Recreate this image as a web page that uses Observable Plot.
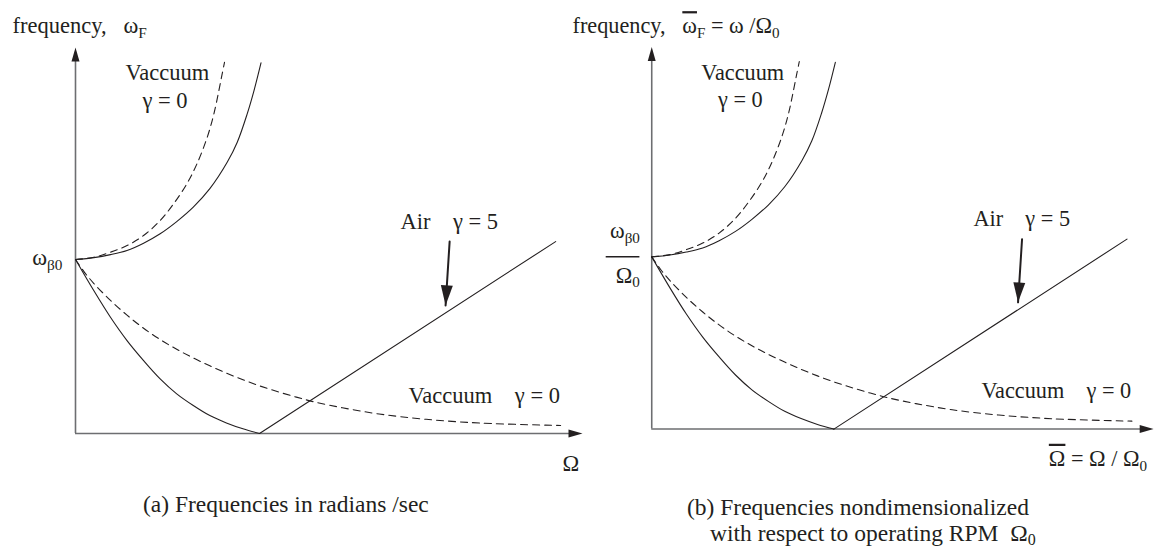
<!DOCTYPE html>
<html>
<head>
<meta charset="utf-8">
<script src="https://cdn.jsdelivr.net/npm/d3@7"></script>
<script src="https://cdn.jsdelivr.net/npm/@observablehq/plot@0.6"></script>
<style>
  html, body { margin: 0; padding: 0; background: #fff; }
  #fig { position: relative; width: 1161px; height: 547px; overflow: hidden;
         font-family: "Liberation Serif", "Times New Roman", serif; color: #231f20; }
  .panel { position: absolute; top: 0; }
  .caption { position: absolute; font-size: 23.5px; line-height: 26px; white-space: pre; }
  .caption sub { font-size: 0.68em; vertical-align: -0.28em; line-height: 0; }
  .caption .indent { display: inline-block; padding-left: 23px; }
</style>
</head>
<body>
<div id="fig">
  <div class="panel" id="panelA" style="left:0px"></div>
  <div class="panel" id="panelB" style="left:577px"></div>
  <div class="caption" style="left:143px;top:491px">(a) Frequencies in radians /sec</div>
  <div class="caption" style="left:687px;top:494px">(b) Frequencies nondimensionalized<br><span class="indent">with respect to operating RPM  Ω<sub>0</sub></span></div>
</div>
<script>
// Units: rotor speed Ω measured so that the lower branch touches zero at Ω = 1,
// frequency measured in units of the non-rotating frequency ω_β0 (= 1).

// Upper branch, vacuum (γ = 0), dashed
const vacUpperOmega = [0, 0.10, 0.19, 0.28, 0.37, 0.46, 0.533, 0.605, 0.66, 0.716, 0.752, 0.779, 0.797, 0.81];
const vacUpperFreq  = [1.0, 1.013, 1.042, 1.080, 1.138, 1.224, 1.320, 1.435, 1.550, 1.703, 1.837, 1.971, 2.067, 2.134];

// Upper branch, air (γ = 5), solid
const airUpperOmega = [0, 0.10, 0.19, 0.28, 0.37, 0.46, 0.55, 0.64, 0.73, 0.825, 0.879, 0.933, 0.97, 1.008];
const airUpperFreq  = [1.0, 1.011, 1.028, 1.052, 1.094, 1.148, 1.218, 1.301, 1.407, 1.56, 1.674, 1.837, 1.971, 2.13];

// Lower branch, air (γ = 5), solid, down to zero frequency
const airLowerOmega = [0, 0.10, 0.19, 0.28, 0.37, 0.46, 0.55, 0.64, 0.73, 0.82, 0.91, 1.0];
const airLowerFreq  = [1.0, 0.82, 0.668, 0.534, 0.419, 0.314, 0.228, 0.161, 0.103, 0.061, 0.027, 0];

// Air branch after the zero crossing (straight line)
const airRiseOmega = [1.0, 2.609];
const airRiseFreq  = [0, 1.103];

// Lower branch, vacuum (γ = 0), dashed
const vacLowerOmega = [0, 0.05, 0.10, 0.19, 0.28, 0.37, 0.46, 0.55, 0.64, 0.73, 0.82, 0.91, 1.0, 1.1, 1.2, 1.3, 1.45, 1.65, 1.9, 2.2, 2.636];
const vacLowerFreq  = [1.0, 0.925, 0.862, 0.765, 0.680, 0.605, 0.540, 0.484, 0.434, 0.389, 0.347, 0.309, 0.274, 0.240, 0.209, 0.181, 0.148, 0.112, 0.082, 0.060, 0.046];

// Pointer from the "Air γ = 5" label to the rising branch
const pointerOmega = [2.033, 2.011];
const pointerFreq  = [1.103, 0.736];

// Axis extents
const OMEGA_END = 2.755;
const FREQ_END = 2.218;
const FREQ_TOP = 2.23;

const FONT = '"Liberation Serif", "Times New Roman", serif';
const INK = "#231f20";
const AXIS = "#6d6e71";
const FS = 22.5;

const zip = (xs, ys) => xs.map((x, i) => ({x, y: ys[i]}));
const vacUpper = zip(vacUpperOmega, vacUpperFreq);
const airUpper = zip(airUpperOmega, airUpperFreq);
const airLower = zip(airLowerOmega, airLowerFreq);
const airRise = zip(airRiseOmega, airRiseFreq);
const vacLower = zip(vacLowerOmega, vacLowerFreq);
const pointer = zip(pointerOmega, pointerFreq);

const W = 590, H = 480, ML = 75, MR = 8, MT = 45, MB = 47;
const kx = (W - ML - MR) / OMEGA_END;
const ky = (H - MT - MB) / FREQ_TOP;

// Filled triangular arrowhead whose tip sits on the point, pointing along (dx, dy) on screen
function head(dx, dy, length, halfWidth) {
  const n = Math.hypot(dx, dy), ux = dx / n, uy = dy / n;
  const bx = -ux * length, by = -uy * length;
  const px = -uy * halfWidth, py = ux * halfWidth;
  return {draw(ctx) {
    ctx.moveTo(0, 0);
    ctx.lineTo(bx + px, by + py);
    ctx.lineTo(bx - px, by - py);
    ctx.closePath();
  }};
}
const headRight = head(1, 0, 14, 4);
const headUp = head(0, -1, 14, 4);
const p0 = pointer[0], p1 = pointer[1];
const headPointer = head((p1.x - p0.x) * kx, -(p1.y - p0.y) * ky, 20, 6);

const label = (x, y, t, anchor = "start") =>
  Plot.text([{x, y, t}], {x: "x", y: "y", text: "t", textAnchor: anchor, lineAnchor: "bottom",
    fontFamily: FONT, fontSize: FS, fill: INK});

function panel(axisLabels) {
  return Plot.plot({
    width: W, height: H, marginLeft: ML, marginRight: MR, marginTop: MT, marginBottom: MB,
    x: {domain: [0, OMEGA_END], axis: null},
    y: {domain: [0, FREQ_TOP], axis: null},
    style: {background: "transparent", overflow: "visible", fontFamily: FONT, color: INK},
    marks: [
      // axes with arrowheads
      Plot.ruleY([0], {x1: 0, x2: OMEGA_END - 0.04, stroke: AXIS, strokeWidth: 1.6}),
      Plot.ruleX([0], {y1: 0, y2: FREQ_END - 0.04, stroke: AXIS, strokeWidth: 1.6}),
      Plot.dot([{x: OMEGA_END, y: 0}], {x: "x", y: "y", symbol: headRight, fill: INK, stroke: "none"}),
      Plot.dot([{x: 0, y: FREQ_END}], {x: "x", y: "y", symbol: headUp, fill: INK, stroke: "none"}),

      // frequency branches
      Plot.line(vacUpper, {x: "x", y: "y", curve: "catmull-rom", stroke: INK, strokeWidth: 1.1, strokeDasharray: "7,5"}),
      Plot.line(airUpper, {x: "x", y: "y", curve: "catmull-rom", stroke: INK, strokeWidth: 1.1}),
      Plot.line(airLower, {x: "x", y: "y", curve: "catmull-rom", stroke: INK, strokeWidth: 1.1}),
      Plot.line(airRise, {x: "x", y: "y", stroke: INK, strokeWidth: 1.1}),
      Plot.line(vacLower, {x: "x", y: "y", curve: "catmull-rom", stroke: INK, strokeWidth: 1.1, strokeDasharray: "7,5"}),

      // pointer
      Plot.line(pointer, {x: "x", y: "y", stroke: INK, strokeWidth: 2}),
      Plot.dot([p1], {x: "x", y: "y", symbol: headPointer, fill: INK, stroke: "none"}),

      // curve labels
      label(0.272, 2.029, "Vaccuum"),
      label(0.364, 1.868, "γ = 0"),
      label(1.766, 1.178, "Air    γ = 5"),
      label(1.81, 0.178, "Vaccuum    γ = 0"),

      ...axisLabels
    ]
  });
}

// Turn _{..} into subscripts and ~{..} into overlined text
function richText(svg) {
  const ns = "http://www.w3.org/2000/svg";
  svg.querySelectorAll("text").forEach(node => {
    const src = node.textContent;
    if (!/[_~]\{/.test(src)) return;
    const size = parseFloat(getComputedStyle(node).fontSize) || FS;
    const shift = Math.round(size * 0.24);
    while (node.firstChild) node.removeChild(node.firstChild);
    node.style.whiteSpace = "pre";
    let lowered = false;
    const re = /([_~])\{([^}]*)\}|([^_~]+)/g;
    let m;
    while ((m = re.exec(src))) {
      const t = document.createElementNS(ns, "tspan");
      if (m[1] === "_") {
        t.textContent = m[2];
        t.setAttribute("font-size", (size * 0.68).toFixed(1));
        if (!lowered) { t.setAttribute("dy", shift); lowered = true; }
      } else {
        t.textContent = m[1] === "~" ? m[2] : m[3];
        if (m[1] === "~") t.style.textDecoration = "overline";
        if (lowered) { t.setAttribute("dy", -shift); lowered = false; }
      }
      node.appendChild(t);
    }
  });
}

const chartA = panel([
  label(-0.342, 2.299, "frequency,   ω_{F}"),
  label(-0.071, 0.971, "ω_{β0}", "end"),
  label(2.647, -0.213, "Ω")
]);

const chartB = panel([
  label(-0.435, 2.299, "frequency,   ~{ω}_{F} = ω /Ω_{0}"),
  label(-0.065, 1.109, "ω_{β0}", "end"),
  Plot.ruleY([1], {x1: -0.25, x2: -0.065, stroke: INK, strokeWidth: 1.5}),
  label(-0.065, 0.851, "Ω_{0}", "end"),
  label(2.18, -0.213, "~{Ω} = Ω / Ω_{0}")
]);

document.getElementById("panelA").appendChild(chartA);
document.getElementById("panelB").appendChild(chartB);
richText(chartA);
richText(chartB);
</script>
</body>
</html>
